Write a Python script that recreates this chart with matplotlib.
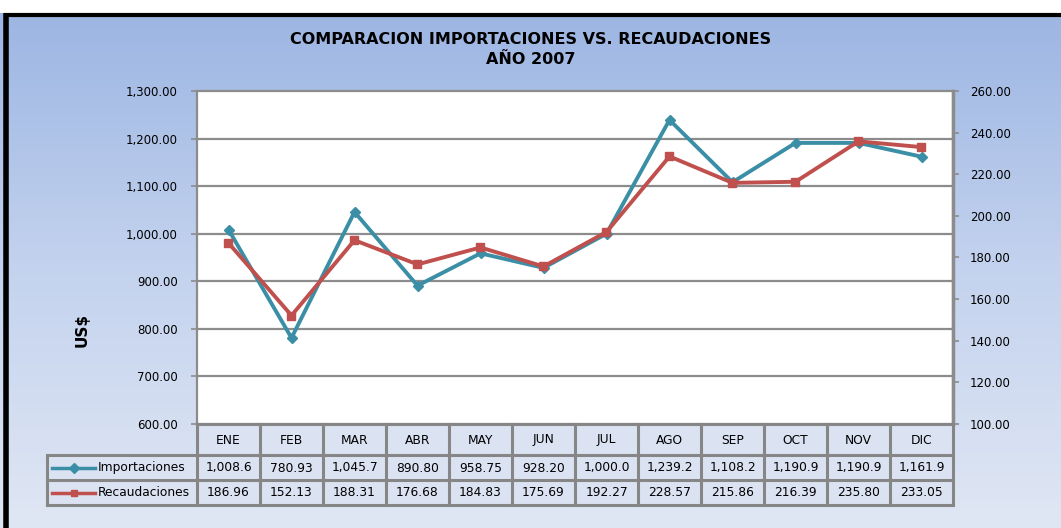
import matplotlib
matplotlib.use('Agg')
from matplotlib import pyplot as plt
from matplotlib.colors import LinearSegmentedColormap
from matplotlib.lines import Line2D
import numpy as np

# Data
months = ['ENE', 'FEB', 'MAR', 'ABR', 'MAY', 'JUN', 'JUL', 'AGO', 'SEP', 'OCT', 'NOV', 'DIC']
importaciones = [1008.6, 780.93, 1045.7, 890.80, 958.75, 928.20, 1000.0, 1239.2,
                 1108.2, 1190.9, 1190.9, 1161.9]
recaudaciones = [186.96, 152.13, 188.31, 176.68, 184.83, 175.69, 192.27, 228.57,
                 215.86, 216.39, 235.80, 233.05]
left_ticks = [600, 700, 800, 900, 1000, 1100, 1200, 1300]
right_ticks = [100, 120, 140, 160, 180, 200, 220, 240, 260]

W, H = 1061, 528
C_IMP = '#3a8ea5'
C_REC = '#c0504d'
GRID = '#8c8c8c'
FONT = 'DejaVu Sans'


def fx(px):
    return px / W


def fy(py):
    return 1 - py / H


def fmt(v):
    return f'{v:,.1f}' if v >= 1000 else f'{v:.2f}'


fig = plt.figure(figsize=(W / 100, H / 100), dpi=100)
fig.patch.set_facecolor('white')

# gradient background
bg = fig.add_axes([0, 0, 1, 1], zorder=-10)
cmap = LinearSegmentedColormap.from_list('bg', ['#9ab4e2', '#c3d2ee', '#e0e7f4'])
grad = np.linspace(0, 1, 256).reshape(-1, 1)
bg.imshow(grad, aspect='auto', cmap=cmap, extent=[0, 1, 0, 1], origin='upper')
bg.set_xlim(0, 1)
bg.set_ylim(0, 1)
bg.axis('off')
# white strip on top and black frame
bg.add_patch(plt.Rectangle((0, fy(13)), 1, 1 - fy(13), color='white', lw=0))
bg.plot([fx(6), fx(6)], [fy(13), -0.1], color='black', lw=4, solid_capstyle='butt')
bg.plot([fx(4), 1.1], [fy(14.5), fy(14.5)], color='black', lw=3, solid_capstyle='butt')

fig.text(0.5, fy(40), 'COMPARACION IMPORTACIONES VS. RECAUDACIONES', ha='center', va='center',
         fontsize=11.5, fontweight='bold', family=FONT, color='black')
fig.text(0.5, fy(60), 'AÑO 2007', ha='center', va='center',
         fontsize=11.5, fontweight='bold', family=FONT, color='black')

# main plot
x0, x1, y0, y1 = 197, 953, 91, 424
ax = fig.add_axes([fx(x0), fy(y1), fx(x1 - x0), (y1 - y0) / H])
ax.set_facecolor('white')
x = np.arange(len(months))
ax.set_xlim(-0.5, len(months) - 0.5)
ax.set_ylim(600, 1300)
ax.set_yticks(left_ticks)
ax.set_yticklabels([f'{t:,.2f}' for t in left_ticks], fontsize=8.5, family=FONT)
ax.set_xticks([])
for y in left_ticks[1:-1]:
    ax.axhline(y, color=GRID, lw=1.6, zorder=1)
for s in ax.spines.values():
    s.set_color(GRID)
    s.set_linewidth(1.6)
ax.tick_params(axis='y', length=4, color=GRID, width=1.2, pad=10)
fig.text(fx(82), fy(330), 'US$', rotation=90, ha='center', va='center',
         fontsize=11, fontweight='bold', family=FONT)

ax2 = ax.twinx()
ax2.set_ylim(100, 260)
ax2.set_yticks(right_ticks)
ax2.set_yticklabels([f'{t:.2f}' for t in right_ticks], fontsize=8.5, family=FONT)
ax2.tick_params(axis='y', length=4, color=GRID, width=1.2, pad=8)
for s in ax2.spines.values():
    s.set_visible(False)
ax2.spines['right'].set_visible(True)
ax2.spines['right'].set_color(GRID)
ax2.spines['right'].set_linewidth(2.5)

ax.plot(x, importaciones, color=C_IMP, lw=2.8, marker='D', ms=5.5, zorder=3)
ax2.plot(x, recaudaciones, color=C_REC, lw=2.8, marker='s', ms=5.5, zorder=3)

# data table
t_top, t_bot = 424, 505
tax = fig.add_axes([fx(x0), fy(t_bot), fx(x1 - x0), (t_bot - t_top) / H])
tax.set_xlim(-0.5, len(months) - 0.5)
tax.set_ylim(t_bot - t_top, 0)
tax.axis('off')
unit = (x1 - x0) / len(months)
lx = -0.5 - 150 / unit
rows = [0, 31, 56, 81]
lw_t = 2.2
kw = dict(color='#868686', lw=lw_t, clip_on=False, solid_capstyle='projecting')
tax.add_patch(plt.Rectangle((-0.5, 0), len(months), 81, color='#dbe3f3', lw=0, clip_on=False))
tax.add_patch(plt.Rectangle((lx, 31), -0.5 - lx, 50, color='#dbe3f3', lw=0, clip_on=False))
for i in range(len(months) + 1):
    tax.plot([i - 0.5, i - 0.5], [0, 81], **kw)
tax.plot([lx, lx], [31, 81], **kw)
tax.plot([-0.5, len(months) - 0.5], [0, 0], **kw)
for r in rows[1:]:
    tax.plot([lx, len(months) - 0.5], [r, r], **kw)

for i, m in enumerate(months):
    tax.text(i, 16, m, ha='center', va='center', fontsize=8.8, family=FONT)
    tax.text(i, 44, fmt(importaciones[i]), ha='center', va='center', fontsize=8.8, family=FONT)
    tax.text(i, 69, fmt(recaudaciones[i]), ha='center', va='center', fontsize=8.8, family=FONT)

series = [('Importaciones', C_IMP, 'D', 44), ('Recaudaciones', C_REC, 's', 69)]
for name, col, mk, yy in series:
    a = lx + 5 / unit
    b = lx + 48 / unit
    tax.add_line(Line2D([a, b], [yy, yy], color=col, lw=2.5, clip_on=False))
    tax.add_line(Line2D([(a + b) / 2], [yy], color=col, marker=mk, ms=5, clip_on=False))
    tax.text(lx + 51 / unit, yy - 1, name, ha='left', va='center', fontsize=8.8, family=FONT)

fig.savefig('out.png', dpi=100)
